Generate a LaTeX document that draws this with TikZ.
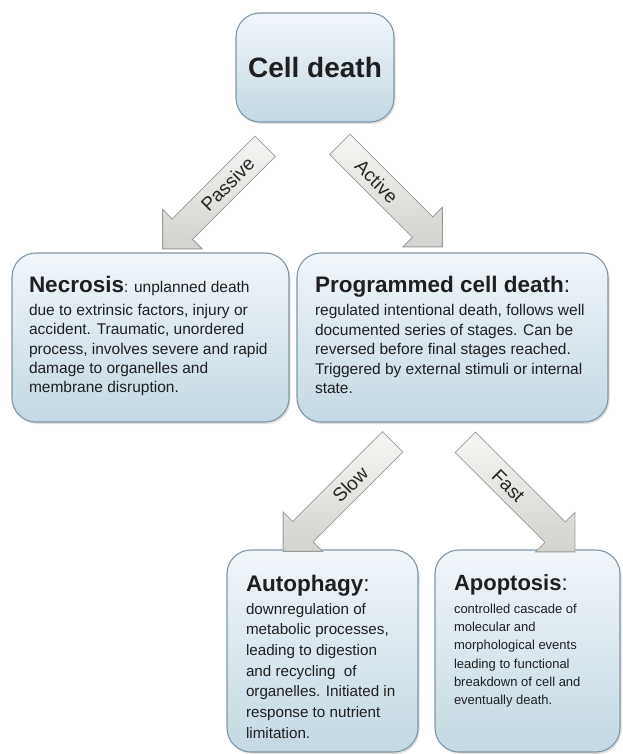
\documentclass[tikz,border=0pt]{standalone}
\usepackage{fontspec}
\setmainfont{Liberation Sans}
\usetikzlibrary{shapes.arrows,shadows}
\definecolor{boxtop}{HTML}{F1F6FA}
\definecolor{boxbot}{HTML}{C4D8E3}
\definecolor{boxline}{HTML}{7D96A7}
\definecolor{arrtop}{HTML}{F6F6F4}
\definecolor{arrbot}{HTML}{D2D2CE}
\definecolor{arrline}{HTML}{9A9A9A}

\begin{document}
\begin{tikzpicture}[x=1pt, y=1pt,
    box/.style={draw=boxline, line width=1.1pt, rounded corners=24pt,
        top color=boxtop, bottom color=boxbot, inner sep=0pt, text=black!88,
        drop shadow={opacity=0.25, shadow xshift=1.5pt, shadow yshift=-2pt}},
    bigarrow/.style={single arrow, draw=arrline, line width=0.8pt,
        top color=arrtop, bottom color=arrbot, inner xsep=4pt, inner ysep=7pt,
        text height=14pt, text depth=0pt, single arrow head extend=13.5pt,
        single arrow tip angle=90, single arrow head indent=0pt,
        font=\fontsize{19}{22}\selectfont, text=black!85}]
    \useasboundingbox (0,0) rectangle (622,-754);
    % 箱
    \node[box, minimum width=158, minimum height=109] (death) at (315,-67.5)
        {\fontsize{28}{32}\selectfont\bfseries Cell death};
    \node[box, minimum width=277, minimum height=169] (necrosis) at (150.5,-337.5)
        {\begin{minipage}[t][123pt][t]{243pt}\fontsize{15.5}{19.3}\selectfont\raggedright
        {\fontsize{22.5}{26}\selectfont\bfseries Necrosis}: unplanned death\\[4pt]
        due to extrinsic factors, injury or\\
        accident. Traumatic, unordered\\
        process, involves severe and rapid\\
        damage to organelles and\\
        membrane disruption.\end{minipage}};
    \node[box, minimum width=311, minimum height=169] (pcd) at (452.5,-337.5)
        {\begin{minipage}[t][123pt][t]{275pt}\fontsize{15.5}{19.5}\selectfont\raggedright
        {\fontsize{22.5}{26}\selectfont\bfseries Programmed cell death}{\fontsize{22.5}{26}\selectfont:}\\[4pt]
        regulated intentional death, follows well\\
        documented series of stages. Can be\\
        reversed before final stages reached.\\
        Triggered by external stimuli or internal\\
        state.\end{minipage}};
    \node[box, minimum width=191, minimum height=202] (autophagy) at (322.5,-651)
        {\begin{minipage}[t][152pt][t]{153pt}\fontsize{15.2}{20.7}\selectfont\raggedright
        {\fontsize{22.5}{26}\selectfont\bfseries Autophagy}{\fontsize{22.5}{26}\selectfont:}\\[2pt]
        downregulation of\\
        metabolic processes,\\
        leading to digestion\\
        and recycling\ \ of\\
        organelles. Initiated in\\
        response to nutrient\\
        limitation.\end{minipage}};
    \node[box, minimum width=185, minimum height=202] (apoptosis) at (527.5,-651)
        {\begin{minipage}[t][152pt][t]{147pt}\fontsize{13}{18.3}\selectfont\raggedright
        {\fontsize{22}{26}\selectfont\bfseries Apoptosis}{\fontsize{22}{26}\selectfont:}\\[4pt]
        controlled cascade of\\
        molecular and\\
        morphological events\\
        leading to functional\\
        breakdown of cell and\\
        eventually death.\end{minipage}};
    % 矢印（文字は軸の側へ寄せる）
    \node[bigarrow, minimum height=145, rotate=45, shape border rotate=180] (passive) at (219,-192.5) {\hspace{24pt}Passive};
    \node[bigarrow, minimum height=145, rotate=-45] (active) at (386,-190.5) {\hspace*{-26pt}Active};
    \node[bigarrow, minimum height=155, rotate=45, shape border rotate=180] (slow) at (343,-491.5) {\hspace{20pt}Slow};
    \node[bigarrow, minimum height=155, rotate=-45] (fast) at (515,-492) {\hspace*{-18pt}Fast};
\end{tikzpicture}
\end{document}
